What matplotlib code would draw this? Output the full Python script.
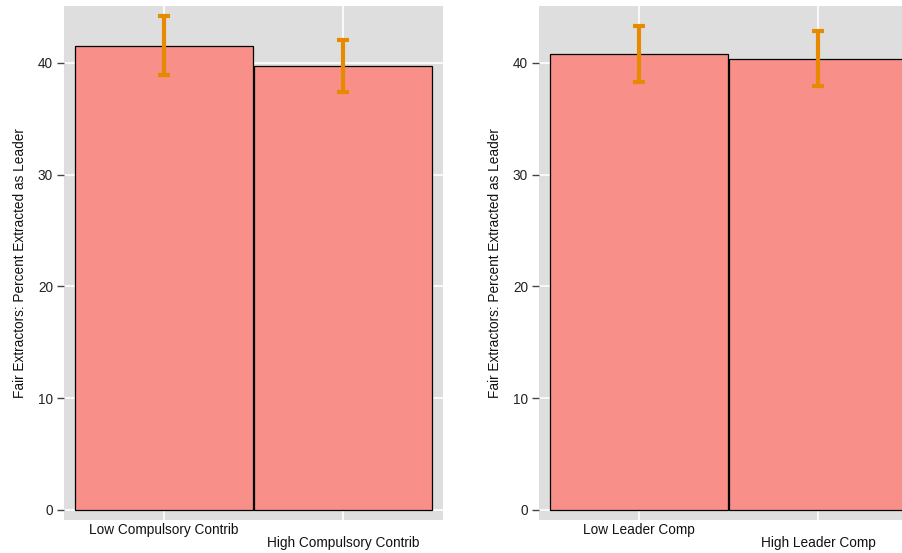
import matplotlib
matplotlib.use("Agg")
import matplotlib.pyplot as plt

# Panel 1: compulsory contribution treatment
comp_labels = ["Low Compulsory Contrib", "High Compulsory Contrib"]
comp_means = [41.5, 39.7]
comp_lo = [38.9, 37.4]
comp_hi = [44.2, 42.1]

# Panel 2: leader compensation treatment
lead_labels = ["Low Leader Comp", "High Leader Comp"]
lead_means = [40.8, 40.4]
lead_lo = [38.3, 37.9]
lead_hi = [43.3, 42.9]

y_ticks = [0, 10, 20, 30, 40]
y_label = "Fair Extractors: Percent Extracted as Leader"

BG = "#DEDEDE"
BAR = "#F88F89"
ERR = "#E88A00"

W, H = 902, 553
fig = plt.figure(figsize=(W / 100, H / 100), dpi=100)
fig.patch.set_facecolor("white")
plt.rcParams["font.family"] = ["Liberation Sans", "DejaVu Sans"]


def panel(left_px, labels, means, lo, hi):
    top_px, bottom_px = 6, 520
    width_px = 379
    ax = fig.add_axes([left_px / W, 1 - bottom_px / H, width_px / W,
                       (bottom_px - top_px) / H])
    ax.set_facecolor(BG)
    x = [1, 2]
    ax.bar(x, means, width=0.99, color=BAR, edgecolor="black",
           linewidth=0.9, zorder=3)
    yerr = [[m - l for m, l in zip(means, lo)],
            [h - m for m, h in zip(means, hi)]]
    ax.errorbar(x, means, yerr=yerr, fmt="none", ecolor=ERR,
                elinewidth=3, capsize=4, capthick=3, zorder=4)
    ax.set_xlim(0.445, 2.556)
    ax.set_ylim(-0.9, 45.1)
    ax.set_yticks(y_ticks)
    ax.set_yticklabels([str(t) for t in y_ticks])
    ax.set_xticks(x)
    ax.set_xticklabels(["", ""])
    ax.grid(True, color="white", linewidth=1.2, zorder=0)
    ax.set_axisbelow(True)
    for s in ax.spines.values():
        s.set_visible(False)
    ax.tick_params(axis="y", length=5, width=1, color="#444444",
                   labelsize=9.8, labelcolor="#222222", pad=3)
    ax.tick_params(axis="x", length=0)
    # staggered category labels
    ax.text(x[0], -0.006, labels[0], transform=ax.get_xaxis_transform(),
            ha="center", va="top", fontsize=9.8, color="#111111")
    ax.text(x[1], -0.031, labels[1], transform=ax.get_xaxis_transform(),
            ha="center", va="top", fontsize=9.8, color="#111111")
    ax.set_ylabel(y_label, fontsize=9.8, color="#111111", labelpad=8)
    return ax


panel(64, comp_labels, comp_means, comp_lo, comp_hi)
panel(539, lead_labels, lead_means, lead_lo, lead_hi)

fig.savefig("out.png", dpi=100, facecolor="white")
